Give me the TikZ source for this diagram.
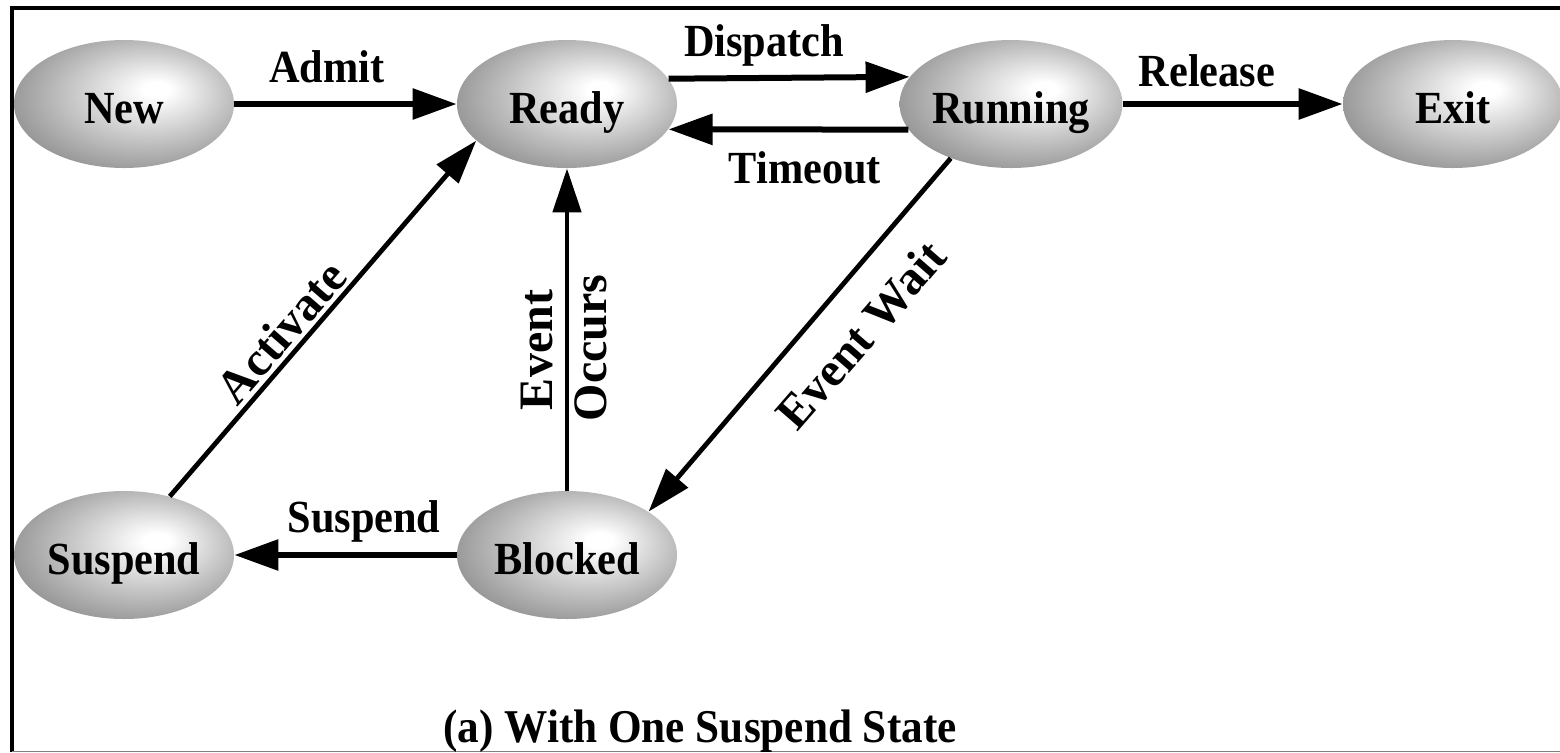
\documentclass[tikz,border=0pt]{standalone}
\usepackage{fontspec}
\setmainfont{Liberation Serif}[FakeStretch=0.92]
\newfontfamily\widefont{Liberation Serif}
\usetikzlibrary{arrows.meta,shapes.geometric}
\pgfdeclareradialshading{stateshade}{\pgfpoint{8bp}{6bp}}{color(0bp)=(white); color(3bp)=(white); color(34bp)=(black!48); color(50bp)=(black!48)}
\begin{document}
\begin{tikzpicture}[x=0.5pt,y=-0.5pt,
  txt/.style={font=\fontsize{23}{25}\selectfont\bfseries},
  state/.style={ellipse, minimum width=110pt, minimum height=64pt, inner sep=0pt, shading=stateshade, text height=19pt, text depth=0pt, txt},
  lbl/.style={txt, inner sep=0pt},
  rlbl/.style={font=\fontsize{24}{26}\widefont\bfseries, inner sep=0pt},
  arr/.style={line width=3pt, -{Triangle[length=22pt,width=15pt]}},
  arrthin/.style={line width=2.4pt, -{Triangle[length=22pt,width=14pt]}},
  frameline/.style={line width=2pt}]
\useasboundingbox (0,0) rectangle (1560,752);
% frame
\draw[frameline] (12,752) -- (12,8) -- (1560,8);
\draw[line width=0.5pt, black!50] (12,751.5) -- (1560,751.5);
% states
\node[state] (new) at (124,104) {New};
\node[state] (ready) at (567,104) {Ready};
\node[state] (running) at (1011,104) {Running};
\node[state] (exit) at (1453,104) {Exit};
\node[state] (suspend) at (124,555) {Suspend};
\node[state] (blocked) at (567,555) {Blocked};
% connectors
\draw[arr] (new) -- (ready);
\draw[arr] (ready.14.5) -- (running.165.5);
\draw[arr] (running.194.5) -- (ready.-14.5);
\draw[arr] (running) -- (exit);
\draw[arr] (blocked) -- (suspend);
\draw[arrthin] (blocked) -- (ready);
\draw[arrthin] (suspend.52) -- (ready.202);
\draw[arrthin] (running.222.6) -- (blocked.28.5);
% labels
\node[lbl, anchor=base] (admitlbl) at (327,82) {Admit};
\node[lbl, anchor=base] (dispatchlbl) at (764,56) {Dispatch};
\node[lbl, anchor=base] (timeoutlbl) at (805,183) {Timeout};
\node[lbl, anchor=base] (releaselbl) at (1207,86) {Release};
\node[lbl, anchor=base] (suspendlbl) at (364,532) {Suspend};
\node[rlbl, rotate=49] (activatelbl) at (281,332) {Activate};
\node[rlbl, rotate=49] (eventwaitlbl) at (861,335) {Event Wait};
\node[rlbl, rotate=90] (eventlbl) at (537,350) {Event};
\node[rlbl, rotate=90] (occurslbl) at (591,348) {Occurs};
\node[anchor=base, inner sep=0pt, font=\fontsize{23.5}{25}\selectfont\bfseries] (caption) at (700,742) {(a) With One Suspend State};
\end{tikzpicture}
\end{document}
